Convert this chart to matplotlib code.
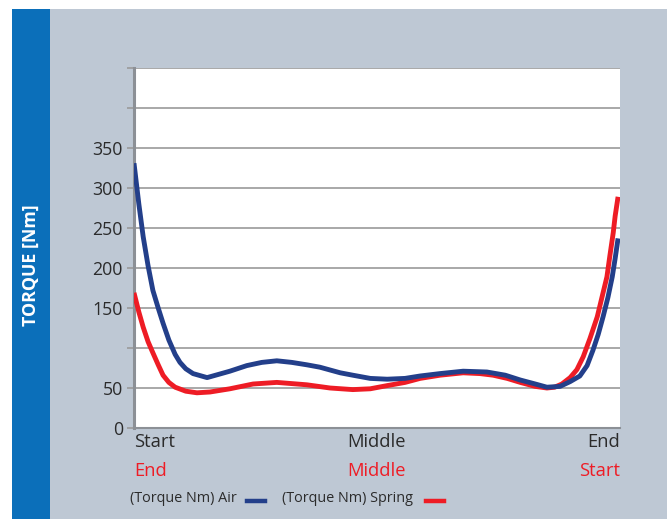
import matplotlib
matplotlib.use("Agg")
import matplotlib.pyplot as plt
from matplotlib.patches import Rectangle

plt.rcParams['font.family'] = ['Open Sans', 'DejaVu Sans']

# ---- data (stroke position in %, torque in Nm) ----
air_pos = [0, 1.0, 1.9, 2.9, 3.9, 5.0, 6.0, 7.2, 8.5, 9.5, 10.7, 12.2, 15.1, 19.8, 23.3,
           26.4, 29.5, 32.6, 35.7, 38.4, 42.6, 45.2, 48.8, 52.3, 56.0, 59.1, 63.2, 68.0,
           72.9, 76.7, 79.8, 82.9, 85.3, 88.0, 90.1, 92.1, 93.6, 94.8, 95.9, 96.9, 97.9,
           98.8, 99.4, 100]
air_torque = [331, 280, 239, 203, 172, 150, 131, 110, 92, 82, 74, 68, 63, 71, 78,
              82, 84, 82, 79, 76, 69, 66, 62, 61, 62, 65, 68, 71,
              70, 66, 60, 55, 51, 52, 58, 65, 78, 97, 117, 139, 163,
              189, 212, 237]

spring_pos = [0, 1.0, 1.9, 2.9, 3.9, 5.0, 6.0, 7.2, 8.5, 10.7, 13.0, 15.7, 19.8, 24.6,
              29.5, 35.7, 40.5, 45.2, 48.8, 52.3, 56.0, 59.1, 63.2, 68.0, 71.5, 74.2,
              77.1, 79.8, 82.9, 85.3, 86.9, 88.4, 90.1, 91.5, 92.8, 94.2, 95.7, 96.7,
              97.7, 98.3, 99.0, 99.4, 100]
spring_torque = [169, 145, 126, 108, 94, 79, 66, 57, 51, 46, 44, 45, 49, 55,
                 57, 54, 50, 48, 49, 53, 57, 62, 66, 69, 68, 66,
                 62, 57, 52, 50, 51, 55, 63, 73, 89, 112, 139, 164,
                 189, 215, 244, 265, 289]

y_ticks = [0, 50, 100, 150, 200, 250, 300, 350, 400, 450]
y_tick_labels = ['0', '50', '', '150', '200', '250', '300', '350', '', '']
x_labels_air = ['Start', 'Middle', 'End']
x_labels_spring = ['End', 'Middle', 'Start']
series_names = ['(Torque Nm) Air', '(Torque Nm) Spring']
y_title = 'TORQUE [Nm]'

# ---- styling ----
W, H = 670, 519
BLUE = '#233f8a'
RED = '#ee1c25'
PANEL = '#bec8d4'
BAR = '#0b6fba'
GRID = '#9a9a9a'
TXT = '#2b2b2b'

fig = plt.figure(figsize=(W / 100, H / 100), dpi=100)
fig.patch.set_facecolor('white')

def px(x, y):
    return x / W, 1 - y / H

# background panel and side bar
fig.patches.append(Rectangle(px(50, H), (667 - 50) / W, (H - 9) / H,
                             transform=fig.transFigure, facecolor=PANEL, edgecolor='none', zorder=-10))
fig.patches.append(Rectangle(px(12, H), (50 - 12) / W, (H - 9) / H,
                             transform=fig.transFigure, facecolor=BAR, edgecolor='none', zorder=-10))
fig.text(31 / W, 1 - 265 / H, y_title, rotation=90, color='white', fontsize=12.8,
         fontweight='bold', ha='center', va='center')

left, right, top, bottom = 134, 620, 68, 428
ax = fig.add_axes([left / W, 1 - bottom / H, (right - left) / W, (bottom - top) / H])
ax.set_zorder(5)
ax.set_facecolor('white')
ax.set_xlim(0, 100.4)
ax.set_ylim(0, 450)

ax.set_yticks(y_ticks)
ax.set_yticklabels(y_tick_labels)
ax.tick_params(axis='y', length=5, width=1.2, color=GRID, labelsize=12.8, labelcolor=TXT, pad=3)
ax.set_xticks([])
ax.grid(axis='y', color=GRID, linewidth=1.2, zorder=1)
ax.set_axisbelow(True)
for s in ['top', 'right']:
    ax.spines[s].set_visible(False)
ax.spines['left'].set_color('#8c9096')
ax.spines['left'].set_linewidth(2.2)
ax.spines['bottom'].set_color('#8c9096')
ax.spines['bottom'].set_linewidth(1.5)

ax.plot(spring_pos, spring_torque, color=RED, linewidth=3.5, solid_capstyle='butt',
        solid_joinstyle='round', zorder=3)
ax.plot(air_pos, air_torque, color=BLUE, linewidth=3.5, solid_capstyle='butt',
        solid_joinstyle='round', zorder=4)

# x labels (two rows)
xs = [0, 50, 100.4]
has = ['left', 'center', 'right']
for x, lab, ha in zip(xs, x_labels_air, has):
    ax.text(x, -6, lab, ha=ha, va='top', fontsize=13.2, color=TXT, clip_on=False)
for x, lab, ha in zip(xs, x_labels_spring, has):
    ax.text(x, -43, lab, ha=ha, va='top', fontsize=13.2, color=RED, clip_on=False)

# legend
fig.text(130 / W, 1 - 499 / H, series_names[0], fontsize=10.4, color=TXT, ha='left', va='center')
fig.add_artist(plt.Line2D([247 / W, 265 / W], [1 - 501 / H] * 2, color=BLUE, linewidth=3.2,
                          transform=fig.transFigure))
fig.text(282 / W, 1 - 499 / H, series_names[1], fontsize=10.4, color=TXT, ha='left', va='center')
fig.add_artist(plt.Line2D([426 / W, 444 / W], [1 - 501 / H] * 2, color=RED, linewidth=3.2,
                          transform=fig.transFigure))

fig.savefig('out.png', dpi=100, facecolor=fig.get_facecolor())
